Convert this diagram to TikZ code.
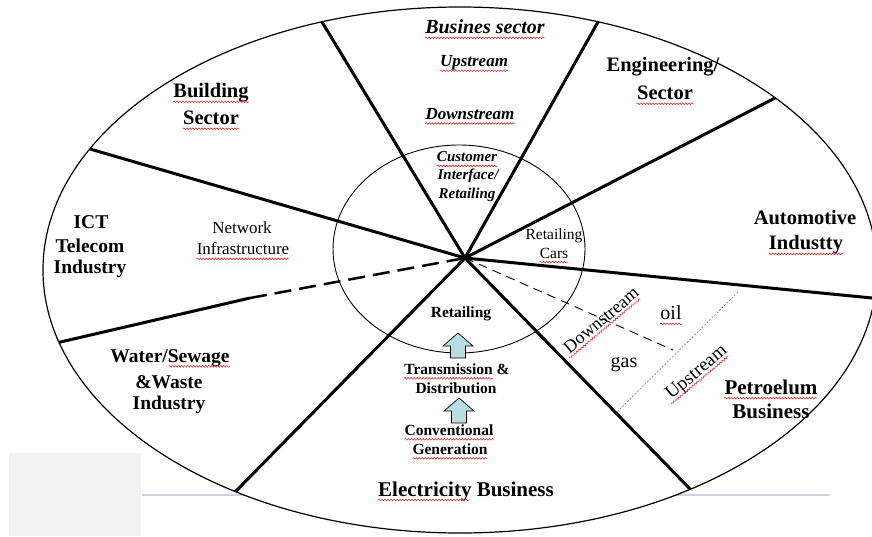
\documentclass[tikz,border=0pt]{standalone}
\usepackage{fontspec}
\setmainfont{Liberation Serif}
\usetikzlibrary{calc,decorations.pathmorphing}
\definecolor{arrowblue}{RGB}{185,222,226}
\definecolor{ruleblue}{RGB}{200,212,226}
\definecolor{boxgray}{RGB}{242,242,242}
\definecolor{spellred}{RGB}{225,45,45}
\tikzset{
  spoke/.style={line width=3pt},
  sector/.style={inner sep=0pt, font=\bfseries\fontsize{#1}{#1}\selectfont},
  sector/.default=20.5,
  stage/.style={inner sep=0pt, font=\bfseries\itshape\fontsize{#1}{#1}\selectfont},
  stage/.default=17,
  note/.style={inner sep=0pt, font=\fontsize{#1}{#1}\selectfont},
  note/.default=17,
  spell/.style={spellred, line width=0.6pt, decorate,
    decoration={snake, segment length=3pt, amplitude=0.8pt}},
  lift/.style={fill=arrowblue, draw=black, line width=0.7pt, line join=miter}
}
\newcommand{\spell}[3]{\draw[spell] ($(#1.base west)!#2!(#1.base east)+(0,4)$) -- ($(#1.base west)!#3!(#1.base east)+(0,4)$);}
\newcommand{\lift}[1]{\draw[lift] (#1) -- ++(15,13) -- ++(-7.5,0) -- ++(0,12) -- ++(-15,0) -- ++(0,-12) -- ++(-7.5,0) -- cycle;}

\begin{document}
\begin{tikzpicture}[x=1pt,y=-1pt]
    \useasboundingbox (0,0) rectangle (872,536);
    \fill[boxgray] (9,453) rectangle (141,536);
    \coordinate (c) at (460,270);
    \coordinate (hub) at (465,258);
    \coordinate (pA) at (322,22);
    \coordinate (pB) at (598,22);
    \coordinate (pC) at (775,98);
    \coordinate (pD) at (872,298);
    \coordinate (pE) at (693,492);
    \coordinate (pF) at (235,492);
    \coordinate (pG) at (60,343);
    \coordinate (pK) at (250,298);
    \coordinate (pH) at (90,149);
    \coordinate (dsEnd) at (673,350);
    \coordinate (usTop) at (738,292);
    \coordinate (usBot) at (617,412);
    \draw[ruleblue, line width=2pt] (142,495) -- (830,495);
    \fill[white] (c) ellipse [x radius=417, y radius=263];
    \draw[line width=0.9pt] (459,249) ellipse [x radius=126, y radius=104];
    \begin{scope}
        \clip (c) ellipse [x radius=417, y radius=263];
        \foreach \p in {pA,pB,pC,pD,pE,pF,pH}
            \draw[spoke] (hub) -- ($(hub)!1.1!(\p)$);
        \draw[spoke] ($(hub)!1.1!(pG)$) -- (pK);
    \end{scope}
    \draw[line width=2.5pt, dash pattern=on 17pt off 8pt] (pK) -- (hub);
    \draw[line width=0.9pt, dash pattern=on 9pt off 6pt] (hub) -- (dsEnd);
    \draw[gray, line width=0.6pt, dash pattern=on 2pt off 1.5pt] (usTop) -- (usBot);
    \draw[line width=1.2pt] (c) ellipse [x radius=417, y radius=263];

    \node[stage=20] (bs) at (485,27) {Busines sector};
    \node[stage] (up) at (474,63) {Upstream};
    \node[stage] (down) at (470,114) {Downstream};
    \node[stage=15] (cust) at (467,157) {Customer};
    \node[stage=15] (iface) at (468,176) {Interface/};
    \node[stage=15] (cret) at (467,195) {Retailing};
    \node[sector] (eng) at (663,67) {Engineering/};
    \node[sector] (engs) at (665,93) {Sector};
    \node[sector] (bld) at (211,93) {Building};
    \node[sector] (blds) at (211,118) {Sector};
    \node[sector=19.5] (ict) at (91,222) {ICT};
    \node[sector=19.5] (tel) at (90,246) {Telecom};
    \node[sector=19.5] (ind) at (90,269) {Industry};
    \node[note] (net) at (242,228) {Network};
    \node[note] (infra) at (243,249) {Infrastructure};
    \node[sector=19.5] (wat) at (170,358) {Water/Sewage};
    \node[sector=19.5] (wst) at (169,382) {\&Waste};
    \node[sector=19.5] (wind) at (169,405) {Industry};
    \node[note=15.5] (rc) at (554,236) {Retailing};
    \node[note=15.5] (cars) at (554,253) {Cars};
    \node[sector] (auto) at (805,218) {Automotive};
    \node[sector] (autoi) at (806,245) {Industty};
    \node[sector=15.5] (ret) at (461,314) {Retailing};
    \node[sector=15.5] (trans) at (457,369) {Transmission \&};
    \node[sector=15.5] (dist) at (456,388) {Distribution};
    \node[sector=15.5] (conv) at (449,430) {Conventional};
    \node[sector=15.5] (gen) at (450,449) {Generation};
    \node[sector=21] (elec) at (466,491) {Electricity Business};
    \node[note=18, rotate=40] (pdown) at (601,320) {Downstream};
    \node[note=20] (oil) at (671,313) {oil};
    \node[note=20] (gas) at (624,365) {gas};
    \node[note=19, rotate=40] (pup) at (697,373) {Upstream};
    \node[sector=21] (pet) at (771,387) {Petroelum};
    \node[sector=21] (petb) at (771,411) {Business};

    \lift{458,333}
    \lift{459,398}

    \foreach \n in {bs,up,down,cust,engs,bld,blds,infra,cars,autoi,conv,gen,pdown,oil,pup,pet}
        {\spell{\n}{0}{1}}
    \spell{wat}{0.49}{1}
    \spell{trans}{0}{0.84}
    \spell{elec}{0}{0.52}
\end{tikzpicture}
\end{document}
